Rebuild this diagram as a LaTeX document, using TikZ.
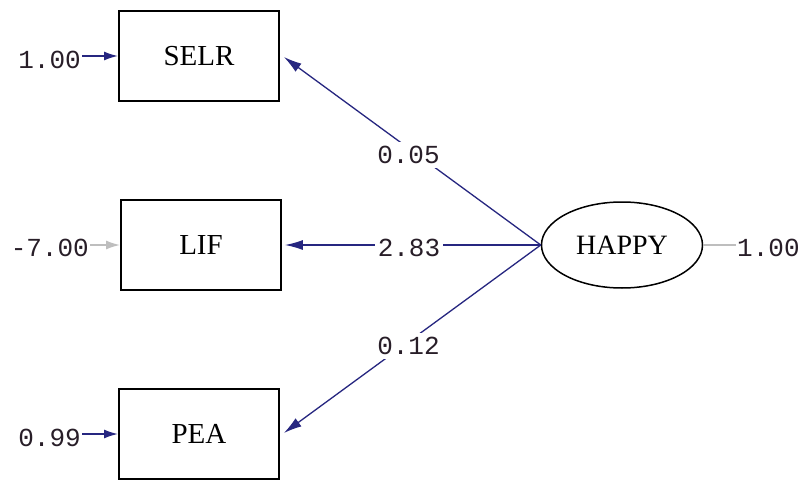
\documentclass[tikz,border=0pt]{standalone}
\usepackage{fontspec}
\setmainfont{Liberation Serif}
\newfontfamily\numfont{Liberation Mono}
\usetikzlibrary{arrows.meta,shapes.geometric}
\definecolor{pathblue}{RGB}{38,38,128}
\definecolor{faintgray}{RGB}{190,190,190}
\definecolor{numink}{RGB}{40,30,40}
\tikzset{
  obsbox/.style={draw=black, line width=1.8pt, minimum width=160pt, minimum height=90pt,
    inner sep=0pt, font=\fontsize{29}{31}\selectfont},
  latvar/.style={ellipse, draw=black, line width=1.5pt, minimum width=161pt, minimum height=86pt,
    inner sep=0pt, font=\fontsize{28}{30}\selectfont},
  numlbl/.style={font=\numfont\fontsize{26}{28}\selectfont, text=numink, inner sep=1pt},
  pathlbl/.style={numlbl, fill=white, inner xsep=3pt, inner ysep=4pt},
  loading/.style={draw=pathblue, line width=1.3pt, -{Latex[length=18pt,width=10pt]}},
  errarrow/.style={draw=pathblue, line width=1.8pt, -{Latex[length=14pt,width=9pt]}},
  fadedarrow/.style={draw=faintgray, line width=1.8pt, -{Latex[length=14pt,width=9pt]}},
  fadedline/.style={draw=faintgray, line width=1.3pt},
}
\begin{document}
\begin{tikzpicture}[x=1pt,y=-1pt]
  \useasboundingbox (0,0) rectangle (802,481);
  \fill[white] (0,0) rectangle (802,481);

  % observed indicators
  \node[obsbox] (selr) at (199,56) {SELR};
  \node[obsbox] (lif)  at (201,245) {LIF};
  \node[obsbox] (pea)  at (199,434) {PEA};

  % latent factor
  \node[latvar] (happy) at (622,245) {HAPPY};

  % error variances
  \node[numlbl, anchor=east] (e1) at (82,60) {1.00};
  \node[numlbl, anchor=east] (e2) at (90,248) {-7.00};
  \node[numlbl, anchor=east] (e3) at (82,438) {0.99};
  \node[numlbl, anchor=west] (eh) at (736,248) {1.00};

  \draw[errarrow]   (e1.east |- selr.west) -- (selr.west);
  \draw[fadedarrow] (e2.east |- lif.west)  -- (lif.west);
  \draw[errarrow]   (e3.east |- pea.west)  -- (pea.west);
  \draw[fadedline]  (happy.east) -- (eh.west |- happy.east);

  % factor loadings
  \draw[loading] (happy.west) -- ([xshift=4pt]selr.east |- 0,57)
    node[pathlbl, pos=0.515, yshift=-7pt] (l1) {0.05};
  \draw[loading] (happy.west) -- ([xshift=3pt]lif.east)
    node[pathlbl, pos=0.515, yshift=-3pt] (l2) {2.83};
  \draw[loading] (happy.west) -- ([xshift=4pt]pea.east |- 0,433)
    node[pathlbl, pos=0.515, yshift=-4pt] (l3) {0.12};
\end{tikzpicture}
\end{document}
